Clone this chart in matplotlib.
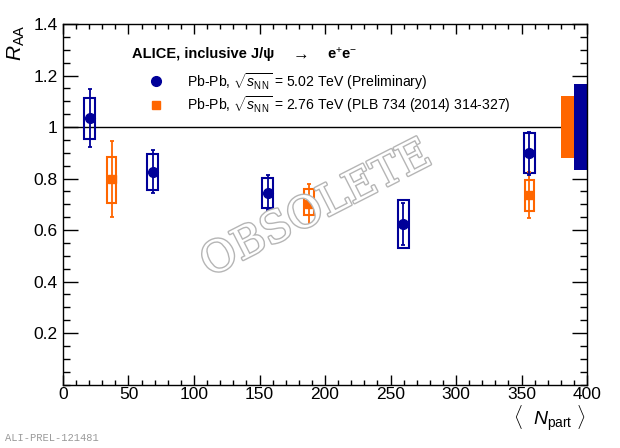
import numpy as np
import matplotlib
matplotlib.use("Agg")
from matplotlib import pyplot as plt
from matplotlib.patches import Rectangle
from matplotlib.ticker import MultipleLocator
import matplotlib.patheffects as pe

plt.rcParams['font.family'] = ['Liberation Sans', 'DejaVu Sans']
plt.rcParams['mathtext.fontset'] = 'custom'
plt.rcParams['mathtext.rm'] = 'Liberation Sans'
plt.rcParams['mathtext.it'] = 'Liberation Sans:italic'
plt.rcParams['mathtext.bf'] = 'Liberation Sans:bold'

#5.02 TeV (preliminary)
npart_502 = [20.6, 68.4, 156.2, 259.8, 356.0]
raa_502 = [1.034, 0.826, 0.745, 0.622, 0.898]
stat_502 = [0.112, 0.084, 0.067, 0.082, 0.084]
syst_lo_502 = [0.955, 0.757, 0.687, 0.529, 0.820]
syst_hi_502 = [1.113, 0.895, 0.803, 0.717, 0.978]
glob_502 = 0.167

#2.76 TeV (PLB 734)
npart_276 = [37.2, 187.8, 356.0]
raa_276 = [0.797, 0.700, 0.736]
stat_276 = [0.148, 0.080, 0.090]
syst_lo_276 = [0.704, 0.658, 0.675]
syst_hi_276 = [0.885, 0.758, 0.794]
glob_276 = 0.12

blue = '#000099'
orange = '#ff6600'

fig = plt.figure(figsize=(6.2, 4.48), dpi=100)
ax = fig.add_axes([0.1016, 0.1417, 0.8452, 0.8047])

ax.set_xlim(0, 400)
ax.set_ylim(0, 1.4)
ax.axhline(1.0, color='black', lw=1.0, zorder=1)

# global uncertainties at the right edge
ax.add_patch(Rectangle((380, 1 - glob_276), 10, 2 * glob_276, facecolor=orange, edgecolor='none', zorder=2))
ax.add_patch(Rectangle((390, 1 - glob_502), 10, 2 * glob_502, facecolor=blue, edgecolor='none', zorder=2))

# syst boxes
for x, lo, hi in zip(npart_502, syst_lo_502, syst_hi_502):
    ax.add_patch(Rectangle((x - 4.2, lo), 8.4, hi - lo, fill=False, edgecolor=blue, lw=1.5, zorder=3))
for x, lo, hi in zip(npart_276, syst_lo_276, syst_hi_276):
    ax.add_patch(Rectangle((x - 3.5, lo), 7.0, hi - lo, fill=False, edgecolor=orange, lw=1.5, zorder=3))

ax.errorbar(npart_276, raa_276, yerr=stat_276, fmt='s', color=orange, ms=6, lw=1.3,
            capsize=1.5, capthick=1.3, zorder=4)
ax.errorbar(npart_502, raa_502, yerr=stat_502, fmt='o', color=blue, ms=7, lw=1.3,
            capsize=1.5, capthick=1.3, zorder=4)

# axes style, ROOT like
ax.xaxis.set_major_locator(MultipleLocator(50))
ax.xaxis.set_minor_locator(MultipleLocator(10))
ax.yaxis.set_major_locator(MultipleLocator(0.2))
ax.yaxis.set_minor_locator(MultipleLocator(0.05))
ax.tick_params(which='both', direction='in', top=True, right=True, labelsize=12.5, width=1)
ax.tick_params(axis='x', which='major', length=7, pad=2)
ax.tick_params(axis='x', which='minor', length=3.6)
ax.tick_params(axis='y', which='major', length=11, pad=4)
ax.tick_params(axis='y', which='minor', length=5)
ax.set_yticks([0.2, 0.4, 0.6, 0.8, 1.0, 1.2, 1.4])
ax.set_yticklabels(['0.2', '0.4', '0.6', '0.8', '1', '1.2', '1.4'])
for s in ax.spines.values():
    s.set_linewidth(1)

fig.text(0.026, 0.946, r'$R_{\rm AA}$', rotation=90, fontsize=15, ha='center', va='top')
fig.text(0.945, 0.0513, r'$\langle\ \ N_{\rm part}\ \rangle$', fontsize=14, ha='right', va='baseline')

# legend by hand
ax.text(0.131, 0.917, 'ALICE, inclusive J/\u03c8', transform=ax.transAxes,
        fontsize=10.5, fontweight='bold', va='center')
ax.text(0.433, 0.917, r'$\rightarrow$', transform=ax.transAxes, fontsize=12, va='center')
ax.text(0.503, 0.917, 'e$^{+}$e$^{-}$', transform=ax.transAxes,
        fontsize=10.5, fontweight='bold', va='center')
ax.plot([0.177], [0.841], 'o', color=blue, ms=7, transform=ax.transAxes, clip_on=False)
ax.plot([0.177], [0.776], 's', color=orange, ms=6, transform=ax.transAxes, clip_on=False)
ax.text(0.236, 0.841, r'Pb-Pb, $\sqrt{s_{\rm NN}}$ = 5.02 TeV (Preliminary)',
        transform=ax.transAxes, fontsize=10.1, va='center')
ax.text(0.236, 0.776, r'Pb-Pb, $\sqrt{s_{\rm NN}}$ = 2.76 TeV (PLB 734 (2014) 314-327)',
        transform=ax.transAxes, fontsize=10.1, va='center')

# watermark
fig.text(0.51, 0.533, 'OBSOLETE', family='DejaVu Serif', fontsize=31,
         color='white', rotation=27, ha='center', va='center', zorder=10,
         path_effects=[pe.withStroke(linewidth=2, foreground='#b5b5b5')])

fig.text(0.008, 0.022, 'ALI-PREL-121481', family='Liberation Mono', fontsize=7.5,
         color='#999999', ha='left', va='center')

fig.savefig('out.png', dpi=100)
